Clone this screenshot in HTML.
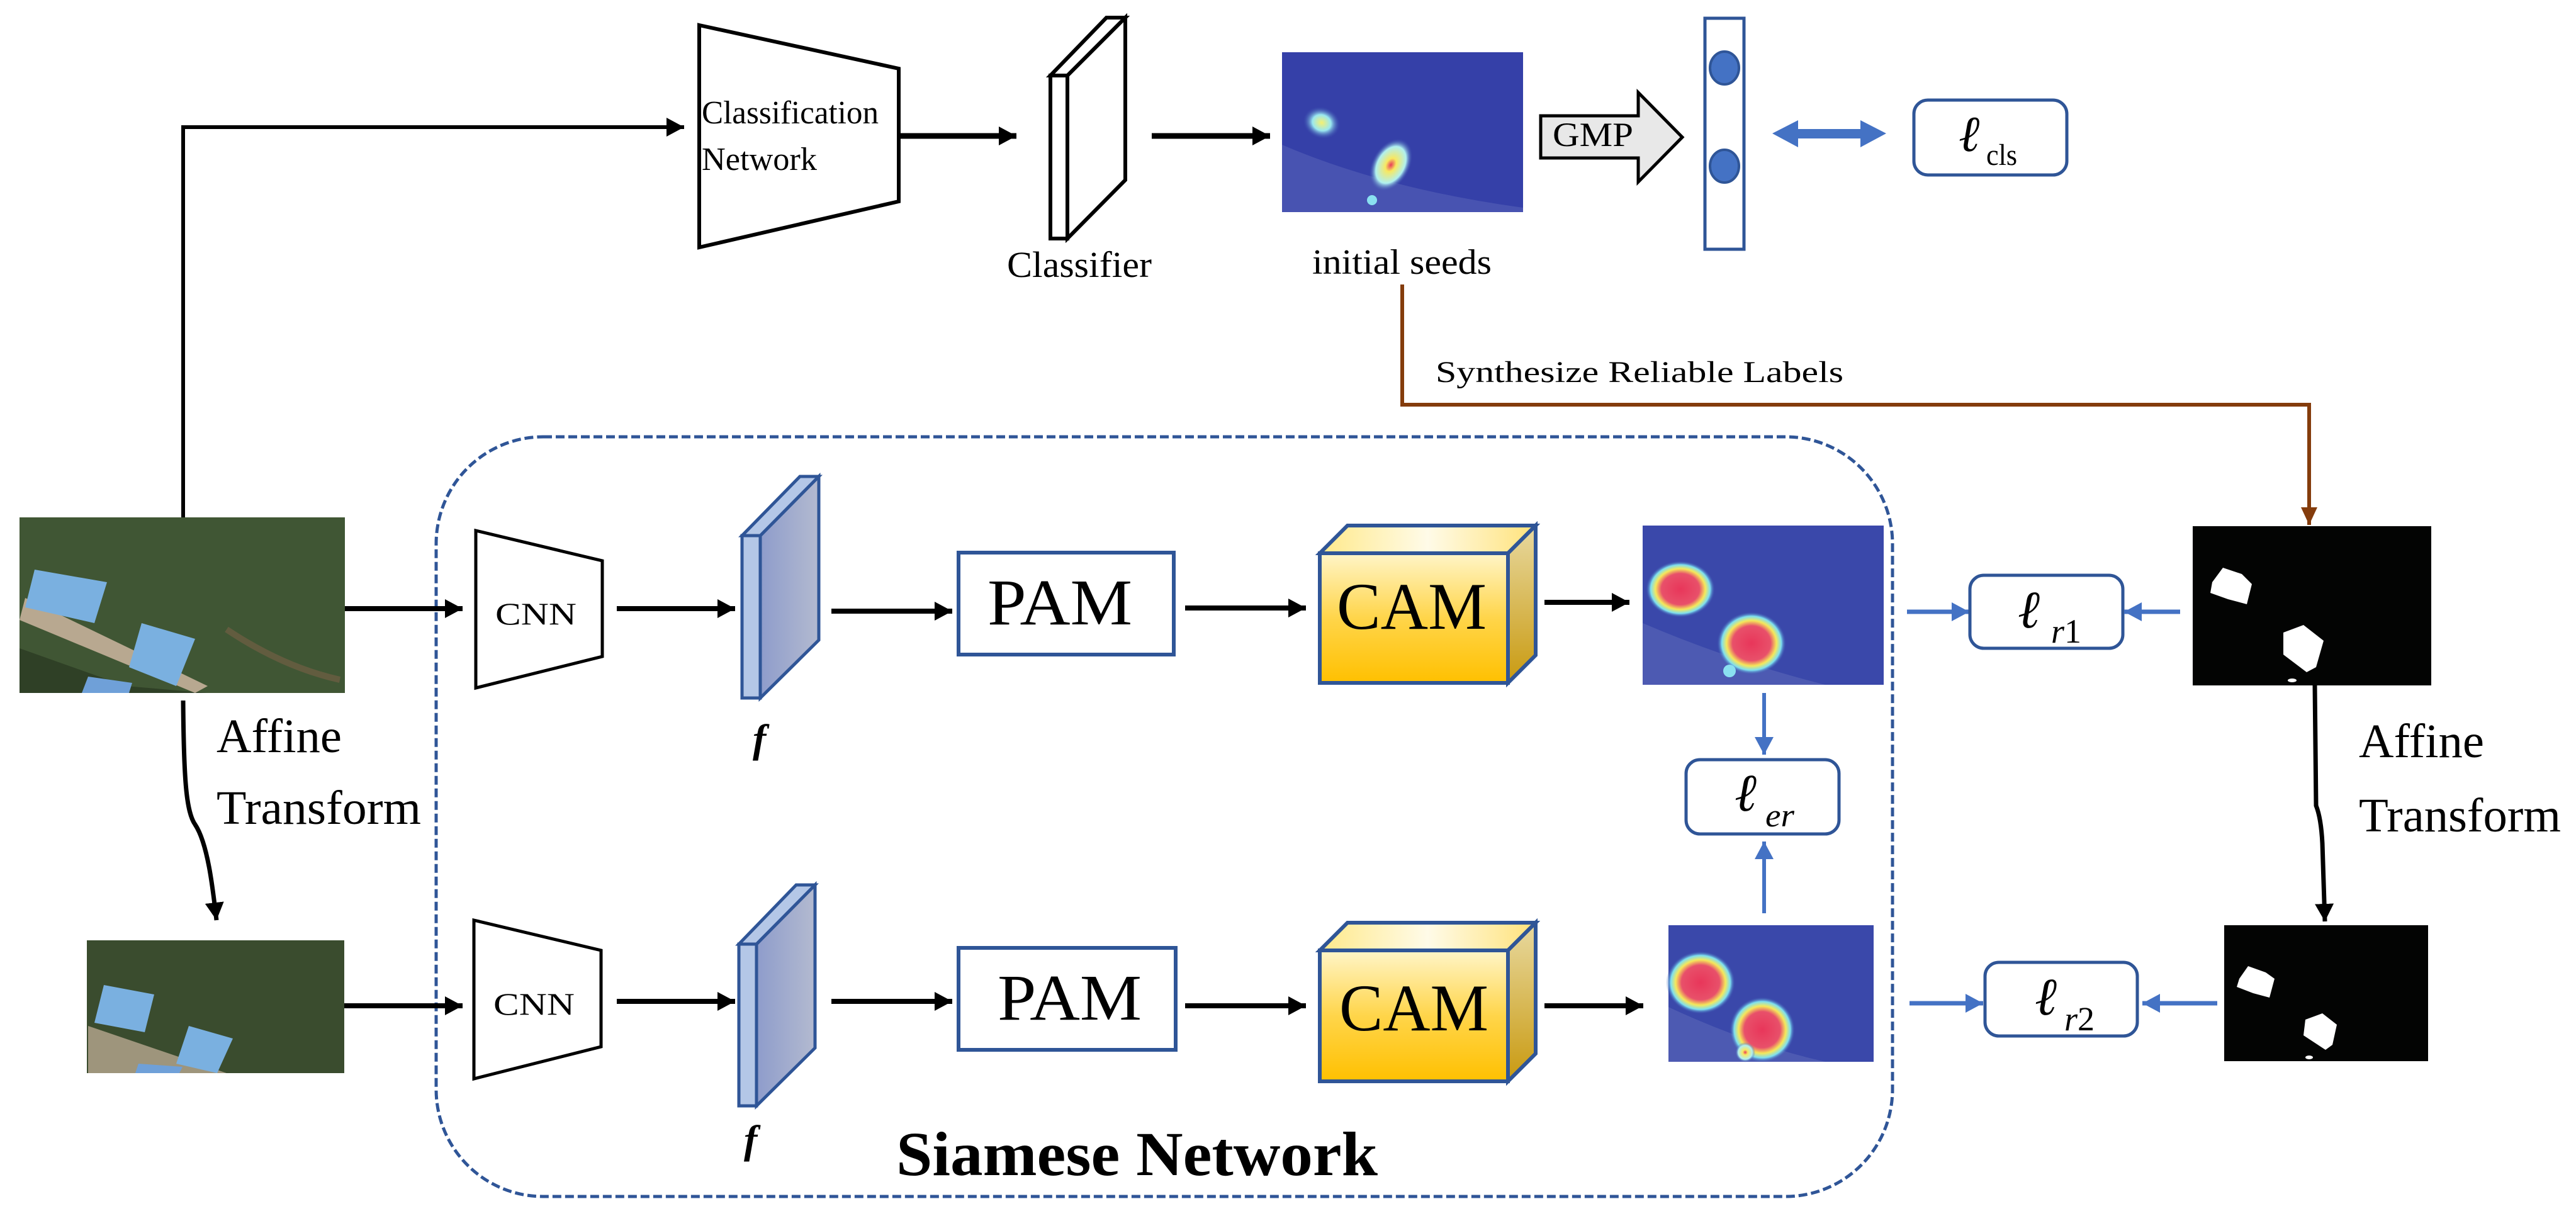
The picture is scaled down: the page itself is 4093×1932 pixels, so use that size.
<!DOCTYPE html>
<html><head><meta charset="utf-8"><style>html,body{margin:0;padding:0;background:#fff}svg{display:block}</style></head>
<body>
<svg width="4093" height="1932" viewBox="0 0 4093 1932" xmlns="http://www.w3.org/2000/svg" font-family="'Liberation Serif', 'DejaVu Serif', serif">
<defs>
<marker id="ab" markerUnits="userSpaceOnUse" markerWidth="30" markerHeight="30" refX="28" refY="15" orient="auto"><path d="M0,0 L28,15 L0,30 z" fill="#000"/></marker>
<marker id="au" markerUnits="userSpaceOnUse" markerWidth="30" markerHeight="30" refX="28" refY="15" orient="auto"><path d="M0,0 L28,15 L0,30 z" fill="#4472c4"/></marker>
<marker id="ar" markerUnits="userSpaceOnUse" markerWidth="30" markerHeight="30" refX="28" refY="15" orient="auto"><path d="M0,2 L28,15 L0,28 z" fill="#843c0c"/></marker>
<linearGradient id="cube" x1="0" y1="0" x2="0" y2="1"><stop offset="0" stop-color="#fff5c8"/><stop offset="0.5" stop-color="#ffd54a"/><stop offset="1" stop-color="#ffc000"/></linearGradient>
<linearGradient id="cubetop" x1="0" y1="0" x2="1" y2="0"><stop offset="0" stop-color="#ffe98a"/><stop offset="0.5" stop-color="#fffbe8"/><stop offset="1" stop-color="#ffe27a"/></linearGradient>
<linearGradient id="cubeside" x1="0" y1="0" x2="0" y2="1"><stop offset="0" stop-color="#e8d9a0"/><stop offset="1" stop-color="#c99a10"/></linearGradient>
<linearGradient id="slab" x1="0" y1="0" x2="1" y2="0"><stop offset="0" stop-color="#8e9ccb"/><stop offset="1" stop-color="#b3bad0"/></linearGradient>
<radialGradient id="hot"><stop offset="0" stop-color="#e8365a"/><stop offset="0.55" stop-color="#e8506a"/><stop offset="0.72" stop-color="#f5e85a"/><stop offset="0.86" stop-color="#7ee0f0"/><stop offset="1" stop-color="#3a50b0" stop-opacity="0"/></radialGradient>
<radialGradient id="warm"><stop offset="0" stop-color="#e83a5a"/><stop offset="0.25" stop-color="#f8e860"/><stop offset="0.7" stop-color="#b0f0f0"/><stop offset="1" stop-color="#3a50b0" stop-opacity="0"/></radialGradient>
<radialGradient id="cool"><stop offset="0" stop-color="#f5f070"/><stop offset="0.5" stop-color="#9ae8f0"/><stop offset="1" stop-color="#3a50b0" stop-opacity="0"/></radialGradient>
</defs>

<!-- Top branch -->
<polyline points="291,822 291,202 1087,202" fill="none" stroke="#000" stroke-width="6" marker-end="url(#ab)"/>
<polygon points="1111,40 1428,109 1428,320 1111,393" fill="#fff" stroke="#000" stroke-width="6"/>
<text x="1115" y="196" font-size="52" textLength="281" lengthAdjust="spacingAndGlyphs">Classification</text>
<text x="1115" y="270" font-size="52" textLength="183" lengthAdjust="spacingAndGlyphs">Network</text>
<line x1="1428" y1="216" x2="1615" y2="216" stroke="#000" stroke-width="9" marker-end="url(#ab)"/>
<polygon points="1696,120 1788,28 1788,286 1696,379" fill="#fff" stroke="#000" stroke-width="6"/>
<polygon points="1669,120 1758,28 1788,28 1696,120" fill="#fff" stroke="#000" stroke-width="6"/>
<rect x="1669" y="120" width="27" height="259" fill="#fff" stroke="#000" stroke-width="6"/>
<text x="1600" y="440" font-size="58" textLength="230" lengthAdjust="spacingAndGlyphs">Classifier</text>
<line x1="1830" y1="216" x2="2018" y2="216" stroke="#000" stroke-width="9" marker-end="url(#ab)"/>

<!-- seeds heatmap -->
<rect x="2037" y="83" width="383" height="254" fill="#3540a8"/>
<path d="M2037,230 Q2200,300 2420,330 L2420,337 L2037,337 z" fill="#5560b8" opacity="0.6"/>
<g transform="rotate(20 2100 195)"><rect x="2070" y="170" width="60" height="50" fill="url(#cool)"/></g>
<g transform="rotate(-60 2210 262)"><ellipse cx="2210" cy="262" rx="45" ry="30" fill="url(#warm)"/></g>
<circle cx="2180" cy="318" r="8" fill="#8ae0f0"/>
<text x="2085" y="435" font-size="56" textLength="285" lengthAdjust="spacingAndGlyphs">initial seeds</text>

<!-- GMP -->
<polygon points="2448,184 2603,184 2603,147 2673,218 2603,289 2603,251 2448,251" fill="#e8e8e8" stroke="#000" stroke-width="5"/>
<text x="2467" y="232" font-size="54" textLength="128" lengthAdjust="spacingAndGlyphs">GMP</text>
<rect x="2709" y="29" width="62" height="367" fill="#fff" stroke="#2f5597" stroke-width="5"/>
<ellipse cx="2740" cy="108" rx="23" ry="26" fill="#4472c4" stroke="#2f5597" stroke-width="4"/>
<ellipse cx="2740" cy="264" rx="23" ry="26" fill="#4472c4" stroke="#2f5597" stroke-width="4"/>
<polygon points="2816,212 2857,191 2857,205 2956,205 2956,191 2997,212 2956,234 2956,220 2857,220 2857,234" fill="#4472c4"/>
<rect x="3041" y="159" width="243" height="119" rx="22" fill="#fff" stroke="#2f5597" stroke-width="5"/>
<text x="3112" y="240" font-size="80" font-style="italic">ℓ</text>
<text x="3156" y="262" font-size="48" textLength="49" lengthAdjust="spacingAndGlyphs">cls</text>

<!-- brown connector -->
<polyline points="2228,452 2228,643 3669,643 3669,834" fill="none" stroke="#843c0c" stroke-width="6" marker-end="url(#ar)"/>
<text x="2281" y="607" font-size="48" textLength="648" lengthAdjust="spacingAndGlyphs">Synthesize Reliable Labels</text>

<!-- Siamese dashed -->
<rect x="693" y="694" width="2314" height="1207" rx="170" fill="none" stroke="#2f5597" stroke-width="5" stroke-dasharray="14 6"/>

<!-- satellite image 1 -->
<rect x="31" y="822" width="517" height="279" fill="#3a4c2e"/>
<path d="M31,822 L548,822 L548,1101 L31,1101 z" fill="#46603a" opacity="0.5"/>
<path d="M31,1030 L200,1090 L330,1101 L31,1101 z" fill="#2f4026"/>
<path d="M40,950 L330,1090 L310,1101 L31,985 z" fill="#b8a890"/>
<polygon points="55,905 170,925 150,990 40,965" fill="#7ab0e0"/>
<polygon points="225,990 310,1015 280,1090 205,1060" fill="#7ab0e0"/>
<polygon points="140,1075 210,1085 205,1101 130,1101" fill="#6fa0d8"/>
<path d="M360,1000 Q450,1060 540,1080" stroke="#7a6048" stroke-width="10" fill="none" opacity="0.6"/>

<!-- left affine -->
<path d="M291,1113 C292,1240 296,1290 310,1310 C330,1340 338,1410 344,1462" fill="none" stroke="#000" stroke-width="7" marker-end="url(#ab)"/>
<text x="344" y="1195" font-size="76" textLength="199" lengthAdjust="spacingAndGlyphs">Affine</text>
<text x="344" y="1309" font-size="76" textLength="325" lengthAdjust="spacingAndGlyphs">Transform</text>

<!-- satellite image 2 -->
<rect x="138" y="1494" width="409" height="211" fill="#3a4c2e"/>
<path d="M140,1630 L360,1705 L140,1705 z" fill="#b8a890" opacity="0.8"/>
<polygon points="165,1565 245,1580 230,1640 150,1625" fill="#7ab0e0"/>
<polygon points="300,1630 370,1650 345,1705 280,1690" fill="#7ab0e0"/>
<polygon points="220,1690 290,1695 285,1705 215,1705" fill="#6fa0d8"/>

<!-- Row 1 -->
<line x1="548" y1="967" x2="735" y2="967" stroke="#000" stroke-width="8" marker-end="url(#ab)"/>
<polygon points="756,843 957,891 957,1043 756,1093" fill="#fff" stroke="#000" stroke-width="5"/>
<text x="787" y="992" font-size="50" textLength="129" lengthAdjust="spacingAndGlyphs">CNN</text>
<line x1="980" y1="967" x2="1168" y2="967" stroke="#000" stroke-width="8" marker-end="url(#ab)"/>
<polygon points="1208,851 1301,757 1301,1017 1208,1109" fill="url(#slab)" stroke="#2f5597" stroke-width="5"/>
<polygon points="1179,851 1271,757 1301,757 1208,851" fill="#b4c7e7" stroke="#2f5597" stroke-width="5"/>
<rect x="1179" y="851" width="29" height="258" fill="#b4c7e7" stroke="#2f5597" stroke-width="5"/>
<text x="1196" y="1195" font-size="64" font-style="italic" font-weight="bold">f</text>
<line x1="1321" y1="971" x2="1513" y2="971" stroke="#000" stroke-width="8" marker-end="url(#ab)"/>
<rect x="1523" y="878" width="342" height="162" fill="#fff" stroke="#2f5597" stroke-width="6"/>
<text x="1569" y="992" font-size="104" textLength="230" lengthAdjust="spacingAndGlyphs">PAM</text>
<line x1="1883" y1="966" x2="2075" y2="966" stroke="#000" stroke-width="8" marker-end="url(#ab)"/>
<polygon points="2097,879 2141,835 2440,835 2396,879" fill="url(#cubetop)" stroke="#2f5597" stroke-width="6"/>
<polygon points="2396,879 2440,835 2440,1041 2396,1085" fill="url(#cubeside)" stroke="#2f5597" stroke-width="6"/>
<rect x="2097" y="879" width="299" height="206" fill="url(#cube)" stroke="#2f5597" stroke-width="6"/>
<text x="2124" y="999" font-size="106" textLength="238" lengthAdjust="spacingAndGlyphs">CAM</text>
<line x1="2454" y1="957" x2="2589" y2="957" stroke="#000" stroke-width="8" marker-end="url(#ab)"/>

<!-- heatmap 1 -->
<rect x="2610" y="835" width="383" height="253" fill="#3a48aa"/>
<path d="M2610,990 Q2750,1050 2900,1088 L2610,1088 z" fill="#5a68b8" opacity="0.6"/>
<ellipse cx="2670" cy="936" rx="55" ry="45" fill="url(#hot)"/>
<ellipse cx="2783" cy="1022" rx="55" ry="50" fill="url(#hot)"/>
<circle cx="2748" cy="1066" r="10" fill="#8ae0f0"/>

<!-- Row 2 -->
<line x1="547" y1="1598" x2="735" y2="1598" stroke="#000" stroke-width="8" marker-end="url(#ab)"/>
<polygon points="753,1462 955,1510 955,1663 753,1714" fill="#fff" stroke="#000" stroke-width="5"/>
<text x="784" y="1612" font-size="50" textLength="129" lengthAdjust="spacingAndGlyphs">CNN</text>
<line x1="980" y1="1591" x2="1168" y2="1591" stroke="#000" stroke-width="8" marker-end="url(#ab)"/>
<polygon points="1202,1500 1295,1406 1295,1665 1202,1757" fill="url(#slab)" stroke="#2f5597" stroke-width="5"/>
<polygon points="1174,1500 1265,1406 1295,1406 1202,1500" fill="#b4c7e7" stroke="#2f5597" stroke-width="5"/>
<rect x="1174" y="1500" width="28" height="257" fill="#b4c7e7" stroke="#2f5597" stroke-width="5"/>
<text x="1182" y="1832" font-size="64" font-style="italic" font-weight="bold">f</text>
<line x1="1321" y1="1591" x2="1513" y2="1591" stroke="#000" stroke-width="8" marker-end="url(#ab)"/>
<rect x="1523" y="1506" width="345" height="162" fill="#fff" stroke="#2f5597" stroke-width="6"/>
<text x="1585" y="1620" font-size="104" textLength="229" lengthAdjust="spacingAndGlyphs">PAM</text>
<line x1="1883" y1="1598" x2="2075" y2="1598" stroke="#000" stroke-width="8" marker-end="url(#ab)"/>
<polygon points="2097,1510 2141,1466 2440,1466 2396,1510" fill="url(#cubetop)" stroke="#2f5597" stroke-width="6"/>
<polygon points="2396,1510 2440,1466 2440,1674 2396,1718" fill="url(#cubeside)" stroke="#2f5597" stroke-width="6"/>
<rect x="2097" y="1510" width="299" height="208" fill="url(#cube)" stroke="#2f5597" stroke-width="6"/>
<text x="2128" y="1637" font-size="106" textLength="237" lengthAdjust="spacingAndGlyphs">CAM</text>
<line x1="2454" y1="1598" x2="2611" y2="1598" stroke="#000" stroke-width="8" marker-end="url(#ab)"/>

<!-- heatmap 2 -->
<rect x="2651" y="1470" width="326" height="217" fill="#3a48aa"/>
<path d="M2651,1600 Q2780,1660 2900,1687 L2651,1687 z" fill="#5a68b8" opacity="0.6"/>
<ellipse cx="2702" cy="1561" rx="55" ry="50" fill="url(#hot)"/>
<ellipse cx="2800" cy="1636" rx="52" ry="52" fill="url(#hot)"/>
<circle cx="2773" cy="1672" r="16" fill="url(#warm)"/>

<!-- er loss -->
<line x1="2803" y1="1101" x2="2803" y2="1199" stroke="#4472c4" stroke-width="6" marker-end="url(#au)"/>
<rect x="2679" y="1207" width="243" height="118" rx="22" fill="#fff" stroke="#2f5597" stroke-width="5"/>
<text x="2756" y="1288" font-size="84" font-style="italic">ℓ</text>
<text x="2805" y="1313" font-size="52" font-style="italic" textLength="46" lengthAdjust="spacingAndGlyphs">er</text>
<line x1="2803" y1="1451" x2="2803" y2="1337" stroke="#4472c4" stroke-width="6" marker-end="url(#au)"/>

<!-- r1 -->
<line x1="3030" y1="972" x2="3129" y2="972" stroke="#4472c4" stroke-width="7" marker-end="url(#au)"/>
<rect x="3130" y="914" width="243" height="116" rx="22" fill="#fff" stroke="#2f5597" stroke-width="5"/>
<text x="3206" y="997" font-size="84" font-style="italic">ℓ</text>
<text x="3259" y="1021" font-size="54"><tspan font-style="italic">r</tspan>1</text>
<line x1="3464" y1="972" x2="3375" y2="972" stroke="#4472c4" stroke-width="7" marker-end="url(#au)"/>

<!-- mask 1 -->
<rect x="3484" y="836" width="379" height="253" fill="#030403"/>
<polygon points="3515,925 3532,902 3562,912 3578,928 3570,960 3540,952 3512,942" fill="#fff"/>
<polygon points="3628,1005 3660,993 3692,1018 3680,1060 3665,1068 3628,1040" fill="#fff"/>
<ellipse cx="3642" cy="1081" rx="7" ry="3" fill="#fff"/>

<!-- right affine -->
<path d="M3678,1089 L3680,1280 Q3688,1300 3690,1340 L3694,1464" fill="none" stroke="#000" stroke-width="7" marker-end="url(#ab)"/>
<text x="3748" y="1203" font-size="76" textLength="199" lengthAdjust="spacingAndGlyphs">Affine</text>
<text x="3748" y="1321" font-size="76" textLength="321" lengthAdjust="spacingAndGlyphs">Transform</text>

<!-- mask 2 -->
<rect x="3534" y="1470" width="324" height="216" fill="#030403"/>
<polygon points="3558,1555 3572,1535 3600,1545 3614,1555 3606,1585 3580,1578 3554,1568" fill="#fff"/>
<polygon points="3663,1620 3690,1610 3713,1628 3706,1660 3695,1668 3660,1645" fill="#fff"/>
<ellipse cx="3669" cy="1680" rx="6" ry="3" fill="#fff"/>

<!-- r2 -->
<line x1="3034" y1="1594" x2="3151" y2="1594" stroke="#4472c4" stroke-width="7" marker-end="url(#au)"/>
<rect x="3154" y="1529" width="242" height="117" rx="22" fill="#fff" stroke="#2f5597" stroke-width="5"/>
<text x="3233" y="1612" font-size="84" font-style="italic">ℓ</text>
<text x="3280" y="1637" font-size="54"><tspan font-style="italic">r</tspan>2</text>
<line x1="3523" y1="1594" x2="3404" y2="1594" stroke="#4472c4" stroke-width="7" marker-end="url(#au)"/>

<text x="1424" y="1867" font-size="100" font-weight="bold" textLength="765" lengthAdjust="spacingAndGlyphs">Siamese  Network</text>
</svg>
</body></html>
